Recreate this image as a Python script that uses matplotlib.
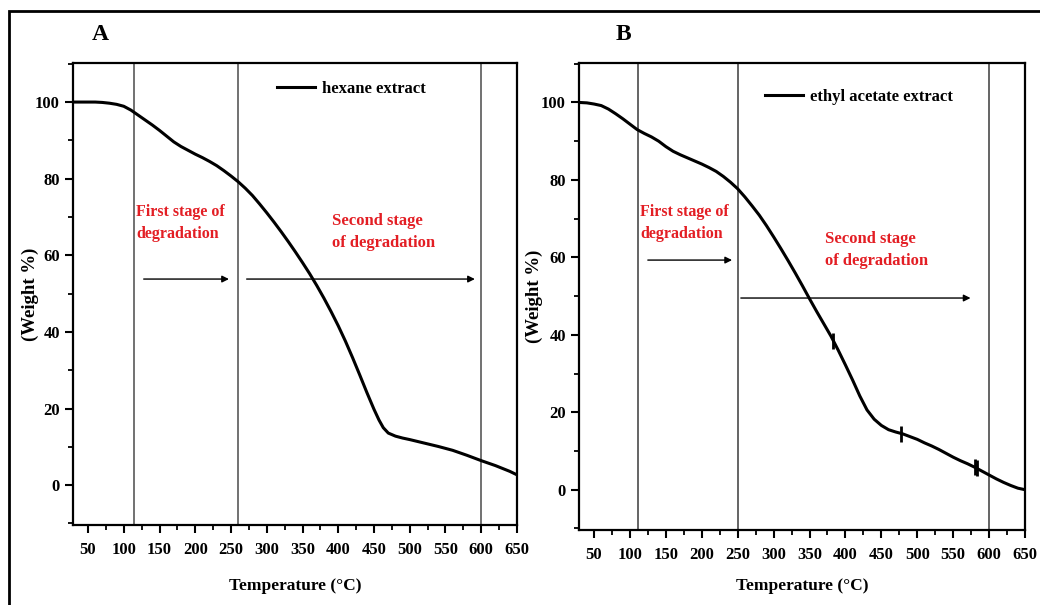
import numpy as np
import matplotlib
matplotlib.use("Agg")
import matplotlib.pyplot as plt
from matplotlib.patches import Rectangle
from matplotlib.ticker import MultipleLocator

plt.rcParams['font.family'] = ['Liberation Serif', 'DejaVu Serif']
plt.rcParams['font.weight'] = 'bold'

# TGA curve, hexane extract
temp_hex = [30, 40, 50, 60, 70, 80, 90, 100, 110, 120, 130, 140, 150, 160, 170, 180,
            190, 200, 210, 220, 230, 240, 250, 260, 270, 280, 290, 300, 310, 320,
            330, 340, 350, 360, 370, 380, 390, 400, 410, 420, 430, 440, 450, 457,
            463, 470, 480, 490, 500, 520, 540, 560, 580, 600, 620, 640, 650]
wt_hex = [100, 100, 100, 100, 99.9, 99.7, 99.4, 98.9, 97.9, 96.6, 95.3, 94, 92.6,
          91.1, 89.6, 88.4, 87.4, 86.4, 85.5, 84.5, 83.4, 82.1, 80.7, 79.2, 77.5,
          75.6, 73.4, 71.1, 68.7, 66.2, 63.6, 60.9, 58.1, 55.2, 52.1, 48.8, 45.3,
          41.6, 37.6, 33.3, 28.8, 24.2, 19.8, 17, 15, 13.6, 12.8, 12.3, 11.9, 11,
          10.1, 9.1, 7.8, 6.4, 5.1, 3.6, 2.7]

# TGA curve, ethyl acetate extract
temp_ea = [30, 40, 50, 60, 70, 80, 90, 100, 110, 120, 130, 140, 150, 160, 170, 180,
           190, 200, 210, 220, 230, 240, 250, 260, 270, 280, 290, 300, 310, 320,
           330, 340, 350, 360, 370, 380, 390, 400, 410, 420, 430, 440, 450, 460,
           470, 480, 490, 500, 510, 520, 530, 540, 550, 560, 570, 580, 590, 600,
           610, 620, 630, 640, 650]
wt_ea = [100, 99.9, 99.6, 99.2, 98.3, 97.1, 95.8, 94.4, 93, 92, 91.1, 90, 88.6,
         87.4, 86.5, 85.7, 84.9, 84.1, 83.2, 82.2, 80.9, 79.4, 77.7, 75.6, 73.3,
         70.9, 68.2, 65.3, 62.3, 59.2, 56, 52.7, 49.3, 46, 42.8, 39.6, 36, 32.2,
         28.3, 24.2, 20.6, 18.2, 16.6, 15.5, 14.9, 14.4, 13.7, 13, 12.1, 11.3, 10.4,
         9.4, 8.4, 7.5, 6.7, 5.8, 4.8, 3.8, 2.8, 1.9, 1.1, 0.4, 0]
spikes_ea = [383, 478, 580, 583]

stage_lines_hex = [114, 260, 600]
stage_lines_ea = [111, 250, 600]

xticks = list(range(50, 651, 50))
yticks = [0, 20, 40, 60, 80, 100]

red = '#e31e24'

fig = plt.figure(figsize=(10.4, 6.05), dpi=100)

# outer frame
fig.add_artist(Rectangle((9 / 1040, -0.05), 1.2, 1 - 11 / 605 + 0.05,
                         transform=fig.transFigure, fill=False, lw=2, ec='black'))

ax1 = fig.add_axes([0.0702, 0.1322, 0.4269, 0.7637])
ax2 = fig.add_axes([0.5567, 0.1240, 0.4289, 0.7719])


def style_axes(ax, xlab_y, ylab_x):
    ax.set_xlim(29, 650)
    ax.set_ylim(-10.4, 110.2)
    ax.set_xticks(xticks)
    ax.set_yticks(yticks)
    ax.xaxis.set_minor_locator(MultipleLocator(25))
    ax.yaxis.set_minor_locator(MultipleLocator(10))
    ax.tick_params(which='major', direction='out', length=6, width=1.5, labelsize=12)
    ax.tick_params(which='minor', direction='out', length=3.5, width=1.3)
    ax.tick_params(axis='x', pad=6)
    for s in ax.spines.values():
        s.set_linewidth(1.6)
    ax.set_xlabel('Temperature (°C)', fontsize=12.5, fontweight='bold')
    ax.set_ylabel('(Weight %)', fontsize=13.5, fontweight='bold')
    ax.xaxis.set_label_coords(0.5, xlab_y)
    ax.yaxis.set_label_coords(ylab_x, 0.5)


arrow = dict(arrowstyle='-|>', color='black', lw=1, mutation_scale=10)

# panel A
for t in stage_lines_hex:
    ax1.axvline(t, color='#4a4a4a', lw=1.1)
ax1.plot(temp_hex, wt_hex, color='black', lw=2.2, label='hexane extract')
style_axes(ax1, -0.114, -0.076)
ax1.legend(loc='upper left', bbox_to_anchor=(0.459, 0.962), frameon=False,
           borderpad=0, borderaxespad=0, handlelength=2.3, handletextpad=0.4,
           prop={'weight': 'bold', 'size': 12})
ax1.text(117, 68.5, 'First stage of\ndegradation', color=red, fontsize=11.5,
         fontweight='bold', ha='left', va='center', linespacing=1.5)
ax1.text(391, 66, 'Second stage\nof degradation', color=red, fontsize=12,
         fontweight='bold', ha='left', va='center', linespacing=1.5)
ax1.annotate('', xy=(251, 53.8), xytext=(124, 53.8), arrowprops=arrow)
ax1.annotate('', xy=(595, 53.8), xytext=(268, 53.8), arrowprops=arrow)
fig.text(100 / 1040, 1 - 35 / 605, 'A', fontsize=17, fontweight='bold', ha='center', va='center')

# panel B
for t in stage_lines_ea:
    ax2.axvline(t, color='#3a3a3a', lw=1.1)
ax2.plot(temp_ea, wt_ea, color='black', lw=2.2, label='ethyl acetate extract')
ax2.plot(spikes_ea, np.interp(spikes_ea, temp_ea, wt_ea), ls='none', marker='|',
         ms=11, mew=2, color='black')
style_axes(ax2, -0.102, -0.08)
ax2.legend(loc='upper left', bbox_to_anchor=(0.417, 0.945), frameon=False,
           borderpad=0, borderaxespad=0, handlelength=2.3, handletextpad=0.4,
           prop={'weight': 'bold', 'size': 12})
ax2.text(114, 69, 'First stage of\ndegradation', color=red, fontsize=11.5,
         fontweight='bold', ha='left', va='center', linespacing=1.5)
ax2.text(372, 62, 'Second stage\nof degradation', color=red, fontsize=12,
         fontweight='bold', ha='left', va='center', linespacing=1.5)
ax2.annotate('', xy=(246, 59.3), xytext=(121, 59.3), arrowprops=arrow)
ax2.annotate('', xy=(578, 49.5), xytext=(250.5, 49.5), arrowprops=arrow)
fig.text(623 / 1040, 1 - 35 / 605, 'B', fontsize=17, fontweight='bold', ha='center', va='center')

fig.savefig('out.png', dpi=100)
